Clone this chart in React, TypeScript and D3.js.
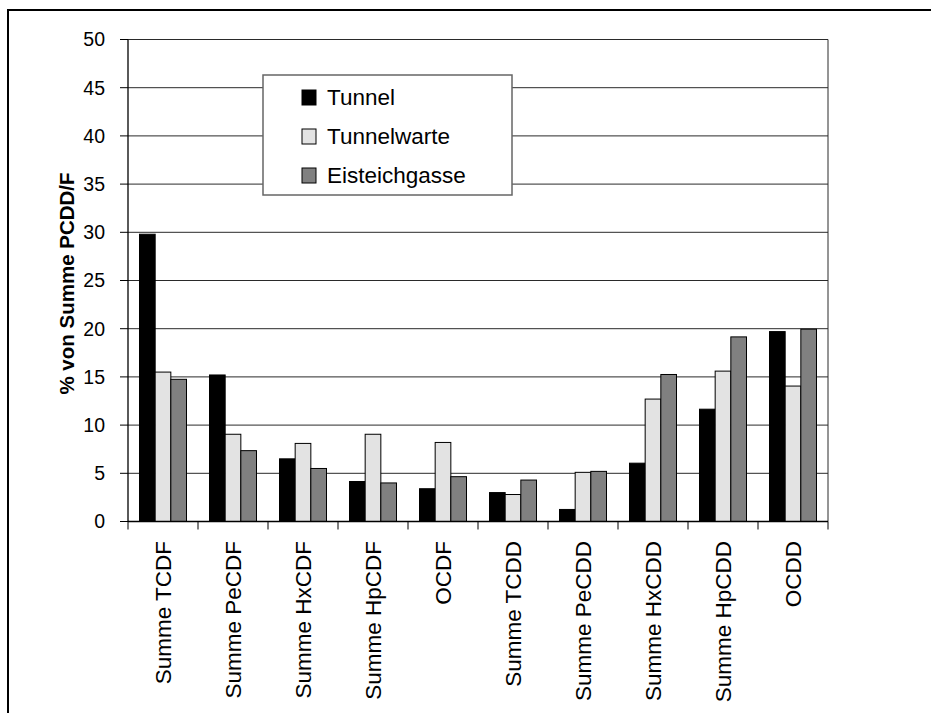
import React from "react";
import * as d3 from "d3";

const categories = [
  "Summe TCDF",
  "Summe PeCDF",
  "Summe HxCDF",
  "Summe HpCDF",
  "OCDF",
  "Summe TCDD",
  "Summe PeCDD",
  "Summe HxCDD",
  "Summe HpCDD",
  "OCDD",
];
const seriesNames = ["Tunnel", "Tunnelwarte", "Eisteichgasse"];
const tunnel = [29.8, 15.2, 6.5, 4.15, 3.4, 3.0, 1.25, 6.05, 11.65, 19.7];
const tunnelwarte = [15.5, 9.05, 8.1, 9.05, 8.2, 2.8, 5.1, 12.7, 15.6, 14.05];
const eisteichgasse = [14.75, 7.35, 5.5, 4.0, 4.65, 4.3, 5.2, 15.25, 19.15, 19.95];
const yTicks = [0, 5, 10, 15, 20, 25, 30, 35, 40, 45, 50];

const colors = ["#000000", "#e3e3e3", "#808080"];
const seriesValues = [tunnel, tunnelwarte, eisteichgasse];

export default function App() {
  const W = 931;
  const H = 713;
  const left = 128;
  const right = 828;
  const top = 39.5;
  const bottom = 521.5;

  const x = d3.scaleBand<string>().domain(categories).range([left, right]).paddingInner(0).paddingOuter(0);
  const xs = d3.scaleBand<string>().domain(seriesNames).range([11.5, x.bandwidth() - 11.5]).padding(0);
  const y = d3.scaleLinear().domain([0, 50]).range([bottom, top]);

  const font = "Arial, 'Liberation Sans', sans-serif";

  return (
    <div style={{ position: "absolute", left: 0, top: 0 }}>
      <svg width={W} height={H} style={{ display: "block", background: "#fff" }}>
        <rect x={0} y={0} width={W} height={H} fill="#fff" />
        {/* outer border */}
        <rect x={8} y={10} width={W + 20} height={H + 20} fill="none" stroke="#000" strokeWidth={2} />

        {/* gridlines */}
        {yTicks.filter((t) => t > 0).map((t) => (
          <line key={"g" + t} x1={left} x2={right} y1={y(t)} y2={y(t)} stroke="#2a2a2a" strokeWidth={1} />
        ))}
        {/* plot right border */}
        <line x1={right} x2={right} y1={top} y2={bottom} stroke="#2a2a2a" strokeWidth={1} />

        {/* bars */}
        {seriesValues.map((vals, si) =>
          vals.map((v, ci) => {
            const bx = (x(categories[ci]) as number) + (xs(seriesNames[si]) as number);
            return (
              <rect
                key={si + "-" + ci}
                x={bx}
                y={y(v)}
                width={xs.bandwidth()}
                height={y(0) - y(v)}
                fill={colors[si]}
                stroke="#000"
                strokeWidth={1}
              />
            );
          })
        )}

        {/* y axis */}
        <line x1={left} x2={left} y1={top} y2={bottom} stroke="#000" strokeWidth={1.3} />
        {yTicks.map((t) => (
          <g key={"yt" + t}>
            <line x1={left - 8} x2={left} y1={y(t)} y2={y(t)} stroke="#000" strokeWidth={1} />
            <text
              x={105}
              y={y(t)}
              dy="0.35em"
              textAnchor="end"
              fontFamily={font}
              fontSize={19.5}
              fill="#000"
            >
              {t}
            </text>
          </g>
        ))}

        {/* x axis */}
        <line x1={left} x2={right} y1={bottom} y2={bottom} stroke="#000" strokeWidth={1.3} />
        {categories.map((c, i) => (
          <line
            key={"xt" + i}
            x1={x(c) as number}
            x2={x(c) as number}
            y1={bottom}
            y2={bottom + 8}
            stroke="#000"
            strokeWidth={1}
          />
        ))}
        <line x1={right} x2={right} y1={bottom} y2={bottom + 8} stroke="#000" strokeWidth={1} />
        {categories.map((c) => {
          const cx = (x(c) as number) + x.bandwidth() / 2;
          return (
            <text
              key={"xl" + c}
              transform={`translate(${cx + 7.5},${541}) rotate(-90)`}
              textAnchor="end"
              fontFamily={font}
              fontSize={22.5}
              fill="#000"
            >
              {c}
            </text>
          );
        })}

        {/* y axis title */}
        <text
          transform={`translate(${74},${(top + bottom) / 2 + 3}) rotate(-90)`}
          textAnchor="middle"
          fontFamily={font}
          fontWeight="bold"
          fontSize={20.5}
          fill="#000"
        >
          % von Summe PCDD/F
        </text>

        {/* legend */}
        <rect x={263} y={75} width={249} height={120} fill="#fff" stroke="#666" strokeWidth={1.5} />
        {seriesNames.map((s, i) => (
          <g key={"lg" + s}>
            <rect x={302} y={90 + i * 39} width={14} height={15} fill={colors[i]} stroke="#000" strokeWidth={1} />
            <text x={327} y={104.5 + i * 39} fontFamily={font} fontSize={22.5} fill="#000">
              {s}
            </text>
          </g>
        ))}
      </svg>
    </div>
  );
}
